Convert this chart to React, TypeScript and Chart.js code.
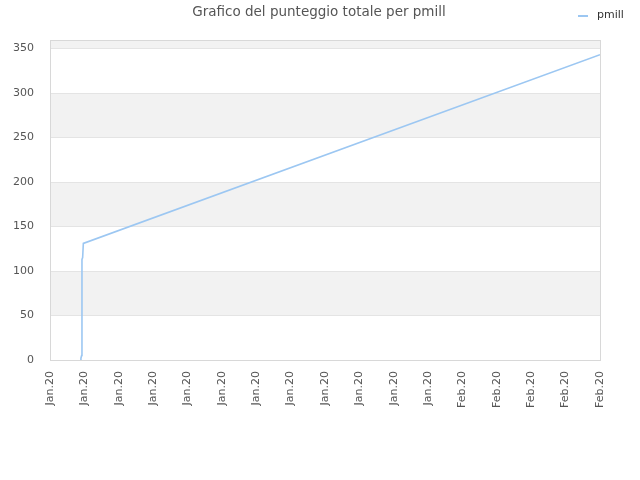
import React, { useEffect, useRef } from 'react';
import { Chart, registerables } from 'chart.js';

Chart.register(...registerables);

// tick labels along the x axis (one per step)
const tickLabels = [
  'Jan.20', 'Jan.20', 'Jan.20', 'Jan.20', 'Jan.20', 'Jan.20', 'Jan.20', 'Jan.20', 'Jan.20',
  'Jan.20', 'Jan.20', 'Jan.20', 'Feb.20', 'Feb.20', 'Feb.20', 'Feb.20', 'Feb.20',
];

// position on the time axis (in tick units) and total score
const timePos = [0.88, 0.9, 0.92, 0.93, 0.95, 0.97, 16];
const scores = [0, 2, 5, 113, 115, 131, 343];

const seriesName = 'pmill';
const titleText = 'Grafico del punteggio totale per pmill';
const lineColor = '#9cc7f2';
const fontFamily = '"DejaVu Sans", Verdana, sans-serif';

const bandsPlugin = {
  id: 'bands',
  beforeDatasetsDraw(chart: any) {
    const { ctx, chartArea } = chart;
    const y = chart.scales.y;
    const vals = y.ticks.map((t: any) => t.value);
    vals.push(y.max);
    ctx.save();
    for (let i = 0; i < vals.length - 1; i++) {
      if (i % 2 === 1) {
        const top = y.getPixelForValue(vals[i + 1]);
        const bot = y.getPixelForValue(vals[i]);
        ctx.fillStyle = '#f2f2f2';
        ctx.fillRect(chartArea.left, top, chartArea.right - chartArea.left, bot - top);
      }
    }
    // horizontal grid lines
    ctx.strokeStyle = '#e4e4e4';
    ctx.lineWidth = 1;
    for (let i = 0; i < vals.length - 1; i++) {
      const py = Math.round(y.getPixelForValue(vals[i])) + 0.5;
      ctx.beginPath();
      ctx.moveTo(chartArea.left, py);
      ctx.lineTo(chartArea.right, py);
      ctx.stroke();
    }
    ctx.strokeStyle = '#d8d8d8';
    ctx.strokeRect(
      Math.round(chartArea.left) + 0.5,
      Math.round(chartArea.top) + 0.5,
      Math.round(chartArea.right - chartArea.left),
      Math.round(chartArea.bottom - chartArea.top)
    );
    ctx.restore();
  },
  afterDraw(chart: any) {
    const { ctx } = chart;
    ctx.save();
    // title
    ctx.fillStyle = '#555';
    ctx.font = '13.5px ' + fontFamily;
    ctx.textAlign = 'center';
    ctx.textBaseline = 'middle';
    ctx.fillText(titleText, 319, 12);
    // legend
    ctx.strokeStyle = lineColor;
    ctx.lineWidth = 2;
    ctx.beginPath();
    ctx.moveTo(578, 16);
    ctx.lineTo(588, 16);
    ctx.stroke();
    ctx.fillStyle = '#333';
    ctx.font = '11px ' + fontFamily;
    ctx.textAlign = 'left';
    ctx.fillText(seriesName, 597, 15);
    ctx.restore();
  },
};

const App: React.FC = () => {
  const canvasRef = useRef<HTMLCanvasElement>(null);

  useEffect(() => {
    if (!canvasRef.current) return;
    const chart = new Chart(canvasRef.current, {
      type: 'line',
      data: {
        datasets: [
          {
            label: seriesName,
            data: timePos.map((x, i) => ({ x, y: scores[i] })),
            borderColor: lineColor,
            borderWidth: 1.6,
            pointRadius: 0,
            tension: 0,
            fill: false,
          },
        ],
      },
      options: {
        animation: false,
        responsive: false,
        layout: { padding: { right: 40, top: 40 } },
        plugins: {
          legend: { display: false },
          tooltip: { enabled: false },
          title: { display: false },
        },
        scales: {
          x: {
            type: 'linear',
            min: 0,
            max: 16,
            grid: { display: false },
            border: { display: false },
            ticks: {
              stepSize: 1,
              autoSkip: false,
              maxRotation: 90,
              minRotation: 90,
              color: '#555',
              font: { family: fontFamily, size: 11 },
              callback: (v: any) => tickLabels[Math.round(Number(v))] ?? '',
            },
            afterFit: (s: any) => {
              s.height = 120;
            },
          },
          y: {
            min: 0,
            max: 359.5,
            grid: { display: false },
            border: { display: false },
            ticks: {
              stepSize: 50,
              includeBounds: false,
              color: '#555',
              padding: 8,
              font: { family: fontFamily, size: 11 },
            },
            afterFit: (s: any) => {
              s.width = 50;
            },
          },
        },
      },
      plugins: [bandsPlugin],
    });
    return () => chart.destroy();
  }, []);

  return (
    <div style={{ position: 'fixed', left: 0, top: 0, width: 640, height: 480, background: '#fff' }}>
      <canvas ref={canvasRef} width={640} height={480} />
    </div>
  );
};

export default App;
